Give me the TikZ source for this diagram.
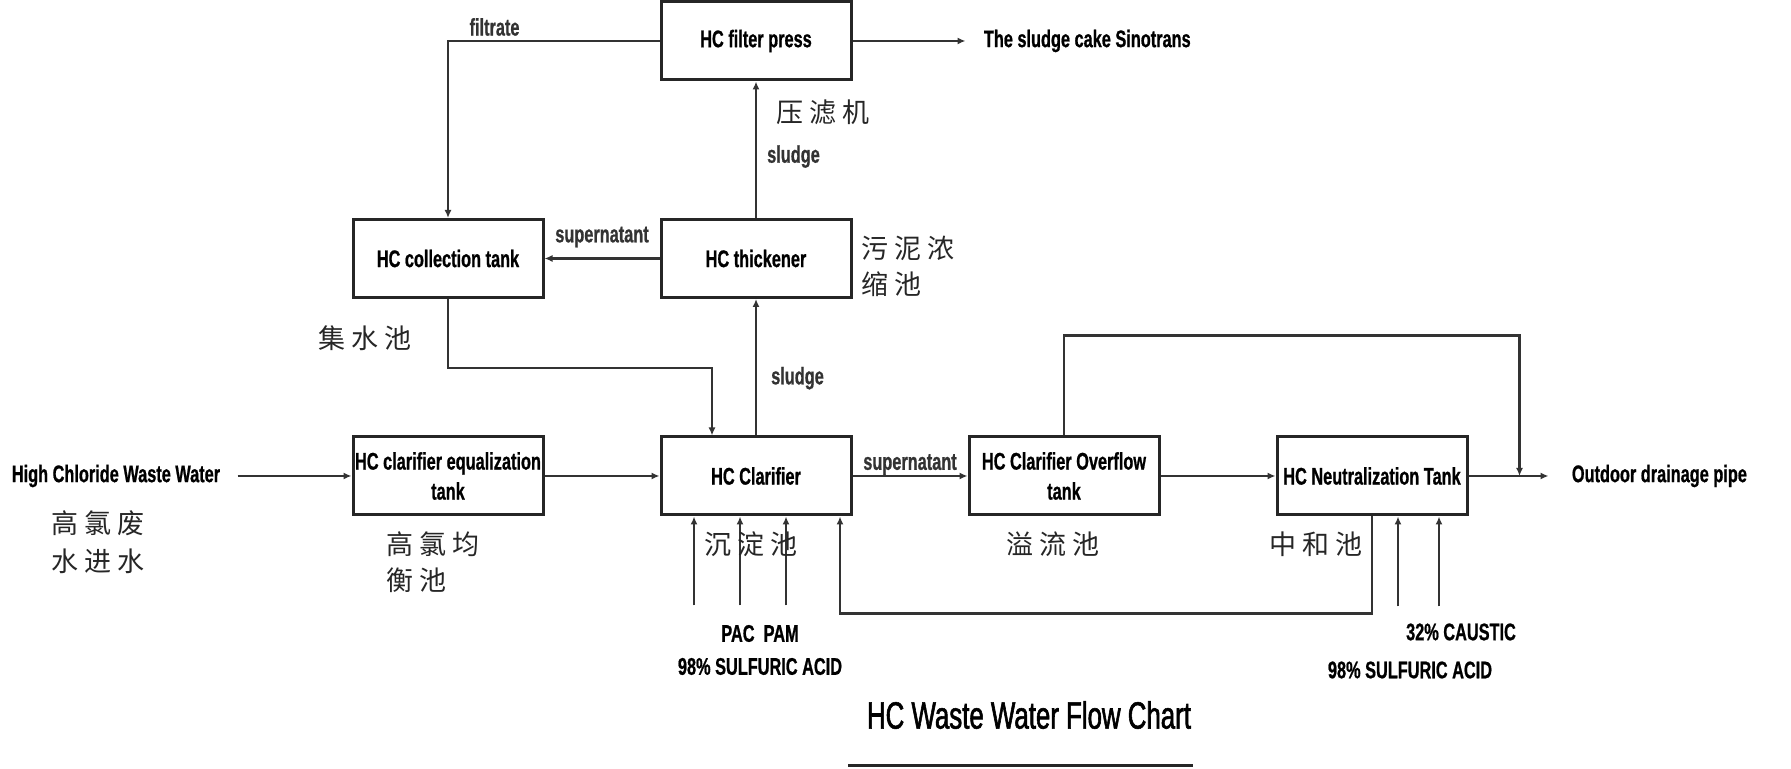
\documentclass[tikz,border=0pt]{standalone}
\usepackage{fontspec}
\usepackage{tikz}
\usetikzlibrary{arrows.meta,positioning,calc}
\newfontfamily\condfont{Liberation Sans}[FakeStretch=0.68,BoldFeatures={FakeBold=0.8}]
\newfontfamily\titlefont{Liberation Sans}[FakeStretch=0.68,FakeBold=1.5]
\newfontfamily\cjk{Noto Sans CJK SC}[LetterSpace=22]

\begin{document}
\begin{tikzpicture}[x=0.5pt,y=0.5pt,node distance=68.25pt and 57.5pt,
  box/.style={draw=black!85,line width=1.5pt,minimum width=95pt,minimum height=39pt,align=center,inner sep=1pt,font=\condfont\bfseries\fontsize{12}{15}\selectfont},
  lbl/.style={inner sep=2pt,align=center,font=\condfont\bfseries\fontsize{12}{15}\selectfont},
  zh/.style={inner sep=0pt,font=\cjk\fontsize{13.5}{18}\selectfont,text=black!85},
  arr/.style={-{Latex[length=4pt,width=3.5pt]},line width=1.2pt,black!80}]
\useasboundingbox (0,0) rectangle (1791,769);
% process row
\node[box] (clar) at (756,293) {HC Clarifier};
\node[box,left=of clar] (eq) {HC clarifier equalization\\tank};
\node[box,right=of clar] (ovf) {HC Clarifier Overflow\\tank};
\node[box,right=of ovf] (neut) {HC Neutralization Tank};
% sludge branch
\node[box,above=of clar] (thick) {HC thickener};
\node[box,left=of thick] (coll) {HC collection tank};
\node[box,above=of thick] (press) {HC filter press};
% in / out
\node[lbl,left=63.5pt of eq] (inflow) {High Chloride Waste Water};
\node[lbl,right=49.5pt of neut] (outdoor) {Outdoor drainage pipe};
\node[lbl,right=63.5pt of press] (cake) {The sludge cake Sinotrans};
\coordinate[right=25.5pt of neut.east] (junc);
\draw[arr,shorten <=6.5pt] (inflow) -- (eq);
\draw[arr] (eq) -- (clar);
\draw[arr] (clar) -- node[lbl,above,inner sep=0pt]{supernatant} (ovf);
\draw[arr] (ovf) -- (neut);
\draw[arr,shorten >=9.5pt] (neut) -- (outdoor);
\draw[arr] (ovf.north) -- ++(0,100) -| (junc);
\draw[arr] (clar) -- node[lbl,right,pos=0.42,xshift=5pt]{sludge} (thick);
\draw[arr] (thick) -- node[lbl,above,yshift=3pt]{supernatant} (coll);
\draw[arr] (thick) -- node[lbl,right,pos=0.45,xshift=3pt]{sludge} (press);
\draw[arr] (press.west) -| node[lbl,above,pos=0.39]{filtrate} (coll.north);
\draw[arr,shorten >=7pt] (press) -- (cake);
\draw[arr] (coll.south) -- ++(0,-69) -| ([xshift=-22pt]clar.north);
\draw[arr] (neut.south) -- ++(0,-97) -| ([xshift=42pt]clar.south);
% dosing
\foreach \dx [count=\i] in {-31,-8,15}{
  \coordinate (cfeed\i) at ([xshift=\dx pt,yshift=-44.5pt]clar.south);
  \draw[arr] (cfeed\i) -- (cfeed\i |- clar.south);
}
\foreach \dx [count=\i] in {13,33.5}{
  \coordinate (nfeed\i) at ([xshift=\dx pt,yshift=-45pt]neut.south);
  \draw[arr] (nfeed\i) -- (nfeed\i |- neut.south);
}
\node[lbl] (cdose) at (760,119) {PAC\ \ PAM\\[1.5pt]98\% SULFURIC ACID};
\node[lbl] (caustic) at (1461,137) {32\% CAUSTIC};
\node[lbl] (nacid) at (1410,99) {98\% SULFURIC ACID};
% chinese names
\node[zh] (zpress) at (823,657) {压滤机};
\node[zh,anchor=west,align=left] (zthick) at (861,503) {污泥浓\\缩池};
\node[zh] (zcoll) at (365,431) {集水池};
\node[zh,align=center,font=\cjk\fontsize{13.5}{19}\selectfont] (zin) at (98,227) {高氯废\\水进水};
\node[zh,anchor=west,align=left] (zeq) at (386,207) {高氯均\\衡池};
\node[zh] (zclar) at (751,225) {沉淀池};
\node[zh] (zovf) at (1053,225) {溢流池};
\node[zh] (zneut) at (1316,225) {中和池};
% title
\node[font=\titlefont\fontsize{19}{22}\selectfont] (title) at (1029,54) {HC Waste Water Flow Chart};
\draw[line width=1.5pt,black!85] (848,3) -- (1193,3);
\end{tikzpicture}
\end{document}
